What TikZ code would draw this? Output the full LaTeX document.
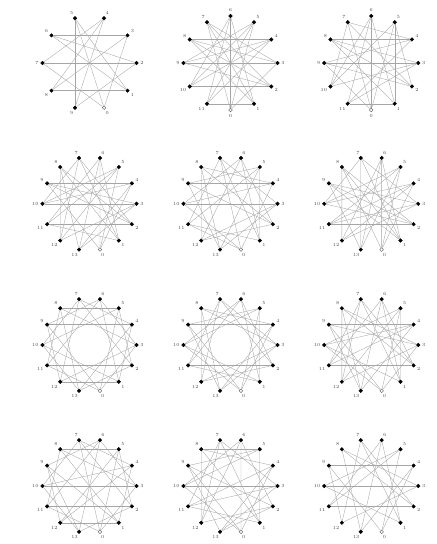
\documentclass[tikz,border=0pt]{standalone}
\usepackage[dvipsnames]{xcolor}
\usetikzlibrary{calc}

\tikzset{
    vertex/.style={circle,fill=black,draw=black,line width=0.3pt,inner sep=0pt,minimum size=1.1mm},
    vzero/.style={vertex,fill=white,draw=black!70},
    link/.style={draw=black!35,line width=0.3pt},
    vlabel/.style={font=\fontsize{4}{5}\selectfont,text=black!70,inner sep=0.3pt}
}

\begin{document}
\begin{tikzpicture}
    \pgfmathsetmacro{\radius}{1.41}
    \useasboundingbox (0,0) rectangle (13.08,16.32);
    \foreach \g/\cx/\cy/\n/\phase in {1/2.685/14.43/10/288, 2/6.915/14.43/12/270, 3/11.136/14.43/12/270,
        4/2.685/10.206/14/282.857, 5/6.915/10.206/14/282.857, 6/11.136/10.206/14/282.857,
        7/2.685/5.97/14/282.857, 8/6.915/5.97/14/282.857, 9/11.136/5.97/14/282.857,
        10/2.685/1.74/14/282.857, 11/6.915/1.74/14/282.857, 12/11.136/1.74/14/282.857}{
        \pgfmathtruncatemacro{\last}{\n-1}
        \foreach \k in {0,...,\last}{
            \pgfmathsetmacro{\ang}{\phase+360*\k/\n}
            \ifnum\k=0 \def\vstyle{vzero}\else\def\vstyle{vertex}\fi
            \node[\vstyle,label={[vlabel,label distance=0.4mm]\ang:\k}] (g\g v\k) at ($(\cx,\cy)+(\ang:\radius)$) {};
        }
    }
\foreach \i/\j in {6/3,7/2,5/9,4/8,4/9,5/1,5/0,6/1,3/8,4/7,2/6,2/9,0/7,0/3,8/1}{\draw[link] (g1v\i) -- (g1v\j);}
\foreach \i/\j in {8/4,9/3,10/2,11/1,6/11,6/1,7/0,7/3,5/0,5/9,4/10,4/11,8/1,8/2,6/10,7/2,5/10,9/2,3/0,3/8,4/9,5/11,6/0,7/1}{\draw[link] (g2v\i) -- (g2v\j);}
\foreach \i/\j in {0/5,1/6,2/7,3/8,4/9,5/10,6/11,7/0,8/1,9/2,10/3,11/4,4/8,3/9,1/11,0/6,2/5,7/10,1/5,0/9,2/8,3/11,4/7,6/10}{\draw[link] (g3v\i) -- (g3v\j);}
\foreach \i/\j in {0/5,1/6,2/7,10/3,4/9,5/10,6/11,7/12,8/13,9/0,1/8,11/2,12/3,13/4,0/6,6/13,13/3,3/9,9/2,2/8,8/12,12/5,5/11,11/1,1/7,7/10,10/4,4/0}{\draw[link] (g4v\i) -- (g4v\j);}
\foreach \i/\j in {0/4,1/5,2/6,3/7,4/8,5/9,6/10,7/11,8/12,9/13,10/0,11/1,12/2,13/3,0/7,7/1,1/6,6/12,12/3,3/10,10/4,4/9,9/2,2/8,8/13,13/5,5/11,11/0}{\draw[link] (g5v\i) -- (g5v\j);}
\foreach \i/\j in {0/6,1/7,2/8,3/9,4/10,5/11,6/12,7/13,8/0,9/1,10/2,11/3,12/4,13/5,0/4,4/11,11/2,2/9,9/13,13/6,6/1,1/8,8/12,12/3,3/7,7/10,10/5,5/0}{\draw[link] (g6v\i) -- (g6v\j);}
\foreach \i/\j in {0/3,1/4,2/5,3/6,4/7,5/8,6/9,7/10,8/11,9/12,10/13,11/0,12/1,13/2,0/5,1/6,2/7,3/8,4/9,5/10,6/11,7/12,8/13,9/0,10/1,11/2,12/3,13/4}{\draw[link] (g7v\i) -- (g7v\j);}
\foreach \i/\j in {0/4,1/5,2/6,3/7,4/8,5/9,6/10,7/11,8/12,9/13,10/0,11/1,12/2,13/3,0/5,1/6,2/7,3/8,4/9,5/10,6/11,7/12,8/13,9/0,10/1,11/2,12/3,13/4}{\draw[link] (g8v\i) -- (g8v\j);}
\foreach \i/\j in {0/5,1/6,2/7,3/8,4/9,5/10,6/11,7/12,8/13,9/0,10/1,11/2,12/3,13/4,0/3,3/9,9/13,13/6,6/2,2/8,8/12,12/5,5/1,1/7,7/11,11/4,4/10,10/0}{\draw[link] (g9v\i) -- (g9v\j);}
\foreach \i/\j in {0/3,1/4,2/5,3/6,4/7,5/8,6/9,7/10,8/11,9/12,10/13,11/0,12/1,13/2,0/7,1/9,2/11,3/8,4/10,5/12,6/13,0/5,1/8,2/7,3/10,4/12,6/11,9/13}{\draw[link] (g10v\i) -- (g10v\j);}
\foreach \i/\j in {0/4,1/5,2/6,3/7,4/8,5/9,6/10,7/11,8/12,9/13,10/0,11/1,12/2,13/3,0/6,1/8,2/9,3/11,4/13,5/10,7/12,0/9,1/7,2/13,3/10,4/11,5/8,6/12}{\draw[link] (g11v\i) -- (g11v\j);}
\foreach \i/\j in {0/5,1/6,2/7,3/8,4/9,5/10,6/11,7/12,8/13,9/0,10/1,11/2,12/3,13/4,0/4,1/7,2/8,3/10,5/11,6/13,9/12}{\draw[link] (g12v\i) -- (g12v\j);}

\end{tikzpicture}
\end{document}
